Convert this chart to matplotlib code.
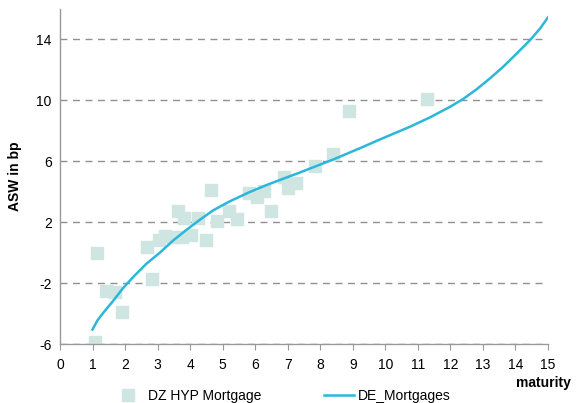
import numpy as np
import matplotlib
matplotlib.use("Agg")
import matplotlib.pyplot as plt
from matplotlib.lines import Line2D

plt.rcParams['font.family'] = ['Liberation Sans', 'DejaVu Sans']
plt.rcParams['axes.unicode_minus'] = False

# DZ HYP bonds (maturity, ASW)
dz_mat = [1.08, 1.13, 1.41, 1.69, 1.91, 2.66, 2.84, 3.05, 3.24, 3.48, 3.74, 4.03,
          3.62, 3.81, 4.23, 4.49, 4.63, 4.84, 5.18, 5.45, 5.8, 6.05, 6.27, 6.49,
          6.89, 7.02, 7.25, 7.84, 8.38, 8.89, 11.27]
dz_asw = [-5.9, 0.0, -2.5, -2.6, -3.9, 0.37, -1.75, 0.85, 1.07, 1.0, 1.05, 1.14,
          2.75, 2.3, 2.3, 0.85, 4.1, 2.05, 2.75, 2.2, 3.9, 3.63, 4.03, 2.74,
          5.0, 4.26, 4.6, 5.7, 6.5, 9.3, 10.1]

# DE_Mortgages fitted curve
de_mat = [1.0, 1.15, 1.33, 1.64, 1.95, 2.25, 2.66, 3.07, 3.48, 3.89, 4.3, 4.71, 5.2,
          5.8, 6.35, 7.38, 8.4, 9.2, 9.84, 10.76, 11.37, 11.99, 12.4, 12.8,
          13.22, 13.63, 14.04, 14.45, 14.76, 15.0]
de_asw = [-5.05, -4.45, -3.95, -3.15, -2.3, -1.6, -0.72, 0.0, 0.8, 1.5, 2.16, 2.78, 3.35,
          3.95, 4.44, 5.27, 6.12, 6.84, 7.44, 8.27, 8.88, 9.58, 10.1, 10.72,
          11.45, 12.22, 13.08, 13.96, 14.73, 15.45]

yticks = [-6, -2, 2, 6, 10, 14]
xticks = list(range(0, 16))

sq_color = '#cfe5e1'
line_color = '#2bb7da'

fig = plt.figure(figsize=(5.81, 4.03), dpi=100)
ax = fig.add_axes([60/581, 1-344/403, 488/581, 335/403])

for y in yticks:
    ax.axhline(y, color='#909090', lw=1, ls=(0, (5, 4)), zorder=1)

ax.plot(dz_mat, dz_asw, ls='none', marker='s', ms=9, color=sq_color,
        mec=sq_color, zorder=2)
ax.plot(de_mat, de_asw, color=line_color, lw=1.8, zorder=3)

ax.set_xlim(0, 15)
ax.set_ylim(-6, 16)
ax.set_xticks(xticks)
ax.set_yticks(yticks)
ax.spines['top'].set_visible(False)
ax.spines['right'].set_visible(False)
for s in ['left', 'bottom']:
    ax.spines[s].set_color('#999999')
    ax.spines[s].set_linewidth(1)
ax.tick_params(axis='x', direction='out', length=4, color='#999999', labelsize=10, pad=6)
ax.tick_params(axis='y', direction='out', length=0, labelsize=10, pad=6)

ax.set_ylabel('ASW in bp', fontsize=10, fontweight='bold', labelpad=10)
fig.text(571/581, 1-383/403, 'maturity', fontsize=10, fontweight='bold',
         ha='right', va='center')

handles = [Line2D([], [], ls='none', marker='s', ms=8, color=sq_color, mec=sq_color),
           Line2D([], [], color=line_color, lw=1.8)]
fig.legend(handles, ['DZ HYP Mortgage', 'DE_Mortgages'], ncol=2, frameon=False,
           loc='center left', bbox_to_anchor=(113/581, 1-396/403),
           bbox_transform=fig.transFigure, borderaxespad=0, borderpad=0,
           handlelength=2.2, handletextpad=0.3, columnspacing=4.5, fontsize=10)

fig.savefig('out.png', dpi=100)
